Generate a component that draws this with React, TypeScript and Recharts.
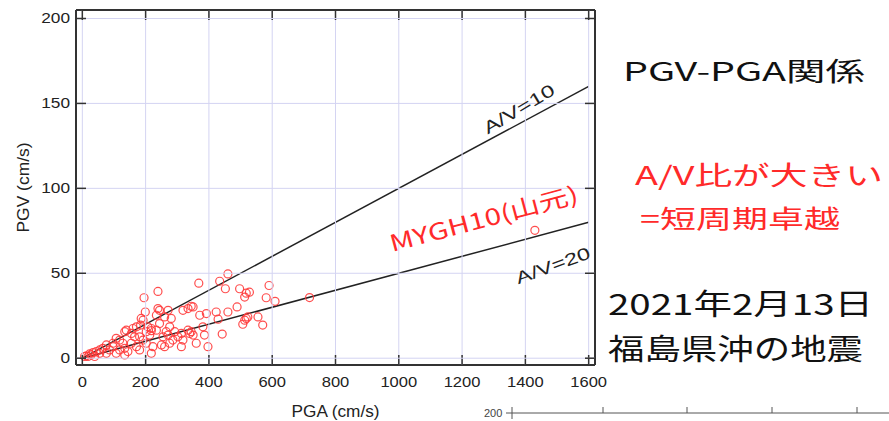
import { ScatterChart, Scatter, XAxis, YAxis, ReferenceLine } from 'recharts';

// station PGA (cm/s/s) and PGV (cm/s)
const pga = [
  460, 434, 368, 452, 239, 195, 497, 518, 528, 513,
  590, 581, 609, 489, 460, 423, 392, 429, 334, 344,
  350, 318, 199, 239, 244, 271, 281, 260, 186, 192,
  184, 207, 218, 234, 218, 160, 171, 139, 134, 155,
  165, 107, 118, 97, 128, 134, 118, 134, 107, 76,
  65, 55, 44, 34, 23, 13, 7, 18, 28, 55,
  39, 234, 265, 271, 286, 276, 260, 250, 223, 218,
  181, 202, 313, 318, 313, 334, 339, 344, 350, 360,
  381, 397, 442, 518, 513, 523, 555, 570, 507, 371,
  386, 292, 302, 255, 181, 192, 155, 171, 144, 86,
  97, 76, 276, 244, 202, 213, 718, 1430,
];
const pgv = [
  49.6, 45.3, 44.2, 40.9, 39.3, 35.6, 40.9, 38.3, 38.9, 36,
  42.8, 35.6, 33.5, 30.2, 27.2, 27.2, 26.3, 23, 29.2, 30.6,
  30.2, 28.2, 27.2, 29.2, 28.2, 28.2, 23.4, 24.3, 23.4, 22.4,
  19.5, 18.5, 17.5, 16.5, 16.2, 17.5, 18.5, 16.5, 15.6, 14.6,
  12.6, 11.7, 10.7, 8.8, 8.8, 5.8, 4.9, 1.9, 2.9, 7.8,
  5.8, 4.9, 3.9, 3.3, 2.5, 1.4, 1, 1, 2, 2.9,
  1, 25.3, 15.6, 13.6, 10.7, 8.8, 6.8, 7.8, 6.8, 2.9,
  4.9, 8.8, 6.8, 10.7, 14.6, 16.5, 14.6, 15.6, 13.6, 8.8,
  18.5, 6.8, 14.2, 23.4, 22.4, 24.3, 24.3, 19.5, 20, 25.3,
  13.6, 15.6, 12.6, 12.6, 12.6, 10.7, 8.8, 6.8, 3.9, 4.9,
  6.8, 2.9, 18.5, 20.4, 15.6, 13.6, 35.7, 75.3,
];

const xTicks = [0, 200, 400, 600, 800, 1000, 1200, 1400, 1600];
const yTicks = [0, 50, 100, 150, 200];

// A/V ratio reference lines, drawn to PGA = 1600
const ratios = [10, 20];
const lineEnd = 1600;

const data = pga.map((a, i) => ({ pga: a, pgv: pgv[i] }));

// layout
const W = 889;
const H = 421;
const M = { top: 10, right: 294, bottom: 0, left: 0 };
const X_AXIS_H = 56;
const Y_AXIS_W = 76;
const PLOT_W = W - M.left - M.right - Y_AXIS_W;
const PLOT_H = H - M.top - M.bottom - X_AXIS_H;

const font = '"Liberation Sans", Arial, sans-serif';
const jp = '"Noto Sans CJK JP", sans-serif';
const frame = '#333';
const grid = '#d4d4f2';
const red = '#ff2a2a';
const TICK = 10;

// bottom tick: grid line, inward ticks on bottom and top frame, label
const BottomTick = (p: any) => {
  const s = String(p.payload.value);
  const top = p.y - PLOT_H;
  return (
    <g>
      <line x1={p.x} x2={p.x} y1={p.y} y2={top} stroke={grid} strokeWidth={1} />
      <line x1={p.x} x2={p.x} y1={p.y} y2={p.y - TICK} stroke={frame} strokeWidth={1.5} />
      <line x1={p.x} x2={p.x} y1={top} y2={top + TICK} stroke={frame} strokeWidth={1.5} />
      <text x={p.x} y={p.y + 22} textAnchor="middle" fontSize={15} fontFamily={font} fill="#222"
        textLength={s.length * 9.2} lengthAdjust="spacingAndGlyphs">{s}</text>
    </g>
  );
};

// left tick: grid line, inward ticks on left and right frame, label
const LeftTick = (p: any) => {
  const s = String(p.payload.value);
  const right = p.x + PLOT_W;
  return (
    <g>
      <line x1={p.x} x2={right} y1={p.y} y2={p.y} stroke={grid} strokeWidth={1} />
      <line x1={p.x} x2={p.x + TICK} y1={p.y} y2={p.y} stroke={frame} strokeWidth={1.5} />
      <line x1={right - TICK} x2={right} y1={p.y} y2={p.y} stroke={frame} strokeWidth={1.5} />
      <text x={p.x - 6} y={p.y + 5} textAnchor="end" fontSize={15} fontFamily={font} fill="#222"
        textLength={s.length * 9.6} lengthAdjust="spacingAndGlyphs">{s}</text>
    </g>
  );
};

// x title plus the top and right edges of the frame
const XLabel = (p: any) => {
  const vb = p.viewBox;
  const right = vb.x + vb.width;
  const top = vb.y - PLOT_H;
  return (
    <g>
      <line x1={vb.x} x2={right} y1={top} y2={top} stroke={frame} strokeWidth={2} />
      <line x1={right} x2={right} y1={top} y2={vb.y} stroke={frame} strokeWidth={2} />
      <text x={vb.x + vb.width / 2} y={vb.y + 52} textAnchor="middle" fontSize={16} fontFamily={font}
        fill="#222" textLength={88} lengthAdjust="spacingAndGlyphs">PGA (cm/s)</text>
    </g>
  );
};

const YLabel = (p: any) => {
  const vb = p.viewBox;
  const cy = vb.y + vb.height / 2;
  return (
    <text x={29} y={cy} transform={`rotate(-90 29 ${cy})`} textAnchor="middle" fontSize={16}
      fontFamily={font} fill="#222" textLength={90} lengthAdjust="spacingAndGlyphs">PGV (cm/s)</text>
  );
};

const Ring = (p: any) => (
  <circle cx={p.cx} cy={p.cy} r={4} fill="none" stroke="#ff3b3b" strokeWidth={1.2} strokeOpacity={0.9} />
);

export default function App() {
  return (
    <div style={{ position: 'absolute', left: 0, top: 0, width: W, height: H }}>
      <div style={{ position: 'relative', width: W, height: H, background: '#fff' }}>
        <ScatterChart width={W} height={H} margin={M}>
          <XAxis type="number" dataKey="pga" domain={[-20, 1620]} ticks={xTicks} interval={0}
            height={X_AXIS_H} tickSize={0} tickMargin={0} tickLine={false}
            tick={BottomTick} axisLine={{ stroke: frame, strokeWidth: 2 }} label={XLabel} />
          <YAxis type="number" dataKey="pgv" domain={[-4, 205]} ticks={yTicks} interval={0}
            width={Y_AXIS_W} tickSize={0} tickMargin={0} tickLine={false}
            tick={LeftTick} axisLine={{ stroke: frame, strokeWidth: 2 }} label={YLabel} />
          {ratios.map((r) => (
            <ReferenceLine key={r} segment={[{ x: 0, y: 0 }, { x: lineEnd, y: lineEnd / r }]}
              stroke="#222" strokeWidth={1.5} />
          ))}
          <Scatter data={data} shape={Ring} isAnimationActive={false} />
        </ScatterChart>
        <svg width={W} height={H} style={{ position: 'absolute', left: 0, top: 0, pointerEvents: 'none' }}>
          <text x={522} y={114} transform="rotate(-31 522 114)" textAnchor="middle" fontSize={17}
            fontFamily={font} fill="#222" textLength={80} lengthAdjust="spacingAndGlyphs">A/V=10</text>
          <text x={555} y={271} transform="rotate(-20 555 271)" textAnchor="middle" fontSize={17}
            fontFamily={font} fill="#222" textLength={78} lengthAdjust="spacingAndGlyphs">A/V=20</text>
          <text x={486} y={227} transform="rotate(-15 486 227)" textAnchor="middle" fontSize={23}
            fontFamily={jp} fill={red} textLength={194} lengthAdjust="spacingAndGlyphs">MYGH10(山元)</text>

          <text x={623} y={81} fontSize={26} fontFamily={jp} fill="#111" textLength={242}
            lengthAdjust="spacingAndGlyphs">PGV-PGA関係</text>
          <text x={635} y={185} fontSize={26} fontFamily={jp} fill={red} textLength={248}
            lengthAdjust="spacingAndGlyphs">A/V比が大きい</text>
          <text x={640} y={228} fontSize={25} fontFamily={jp} fill={red} textLength={200}
            lengthAdjust="spacingAndGlyphs">=短周期卓越</text>
          <text x={608} y={315} fontSize={29} fontFamily={jp} fill="#111" textLength={265}
            lengthAdjust="spacingAndGlyphs">2021年2月13日</text>
          <text x={608} y={360} fontSize={29} fontFamily={jp} fill="#111" textLength={255}
            lengthAdjust="spacingAndGlyphs">福島県沖の地震</text>

          <text x={484} y={417} fontSize={11} fontFamily={font} fill="#444">200</text>
          <line x1={506} x2={889} y1={413} y2={413} stroke="#555" strokeWidth={1} />
          <line x1={512} x2={512} y1={407} y2={419} stroke="#555" strokeWidth={1} />
          {[603, 687, 772, 857].map((x) => (
            <line key={x} x1={x} x2={x} y1={407} y2={413} stroke="#555" strokeWidth={1} />
          ))}
        </svg>
      </div>
    </div>
  );
}
